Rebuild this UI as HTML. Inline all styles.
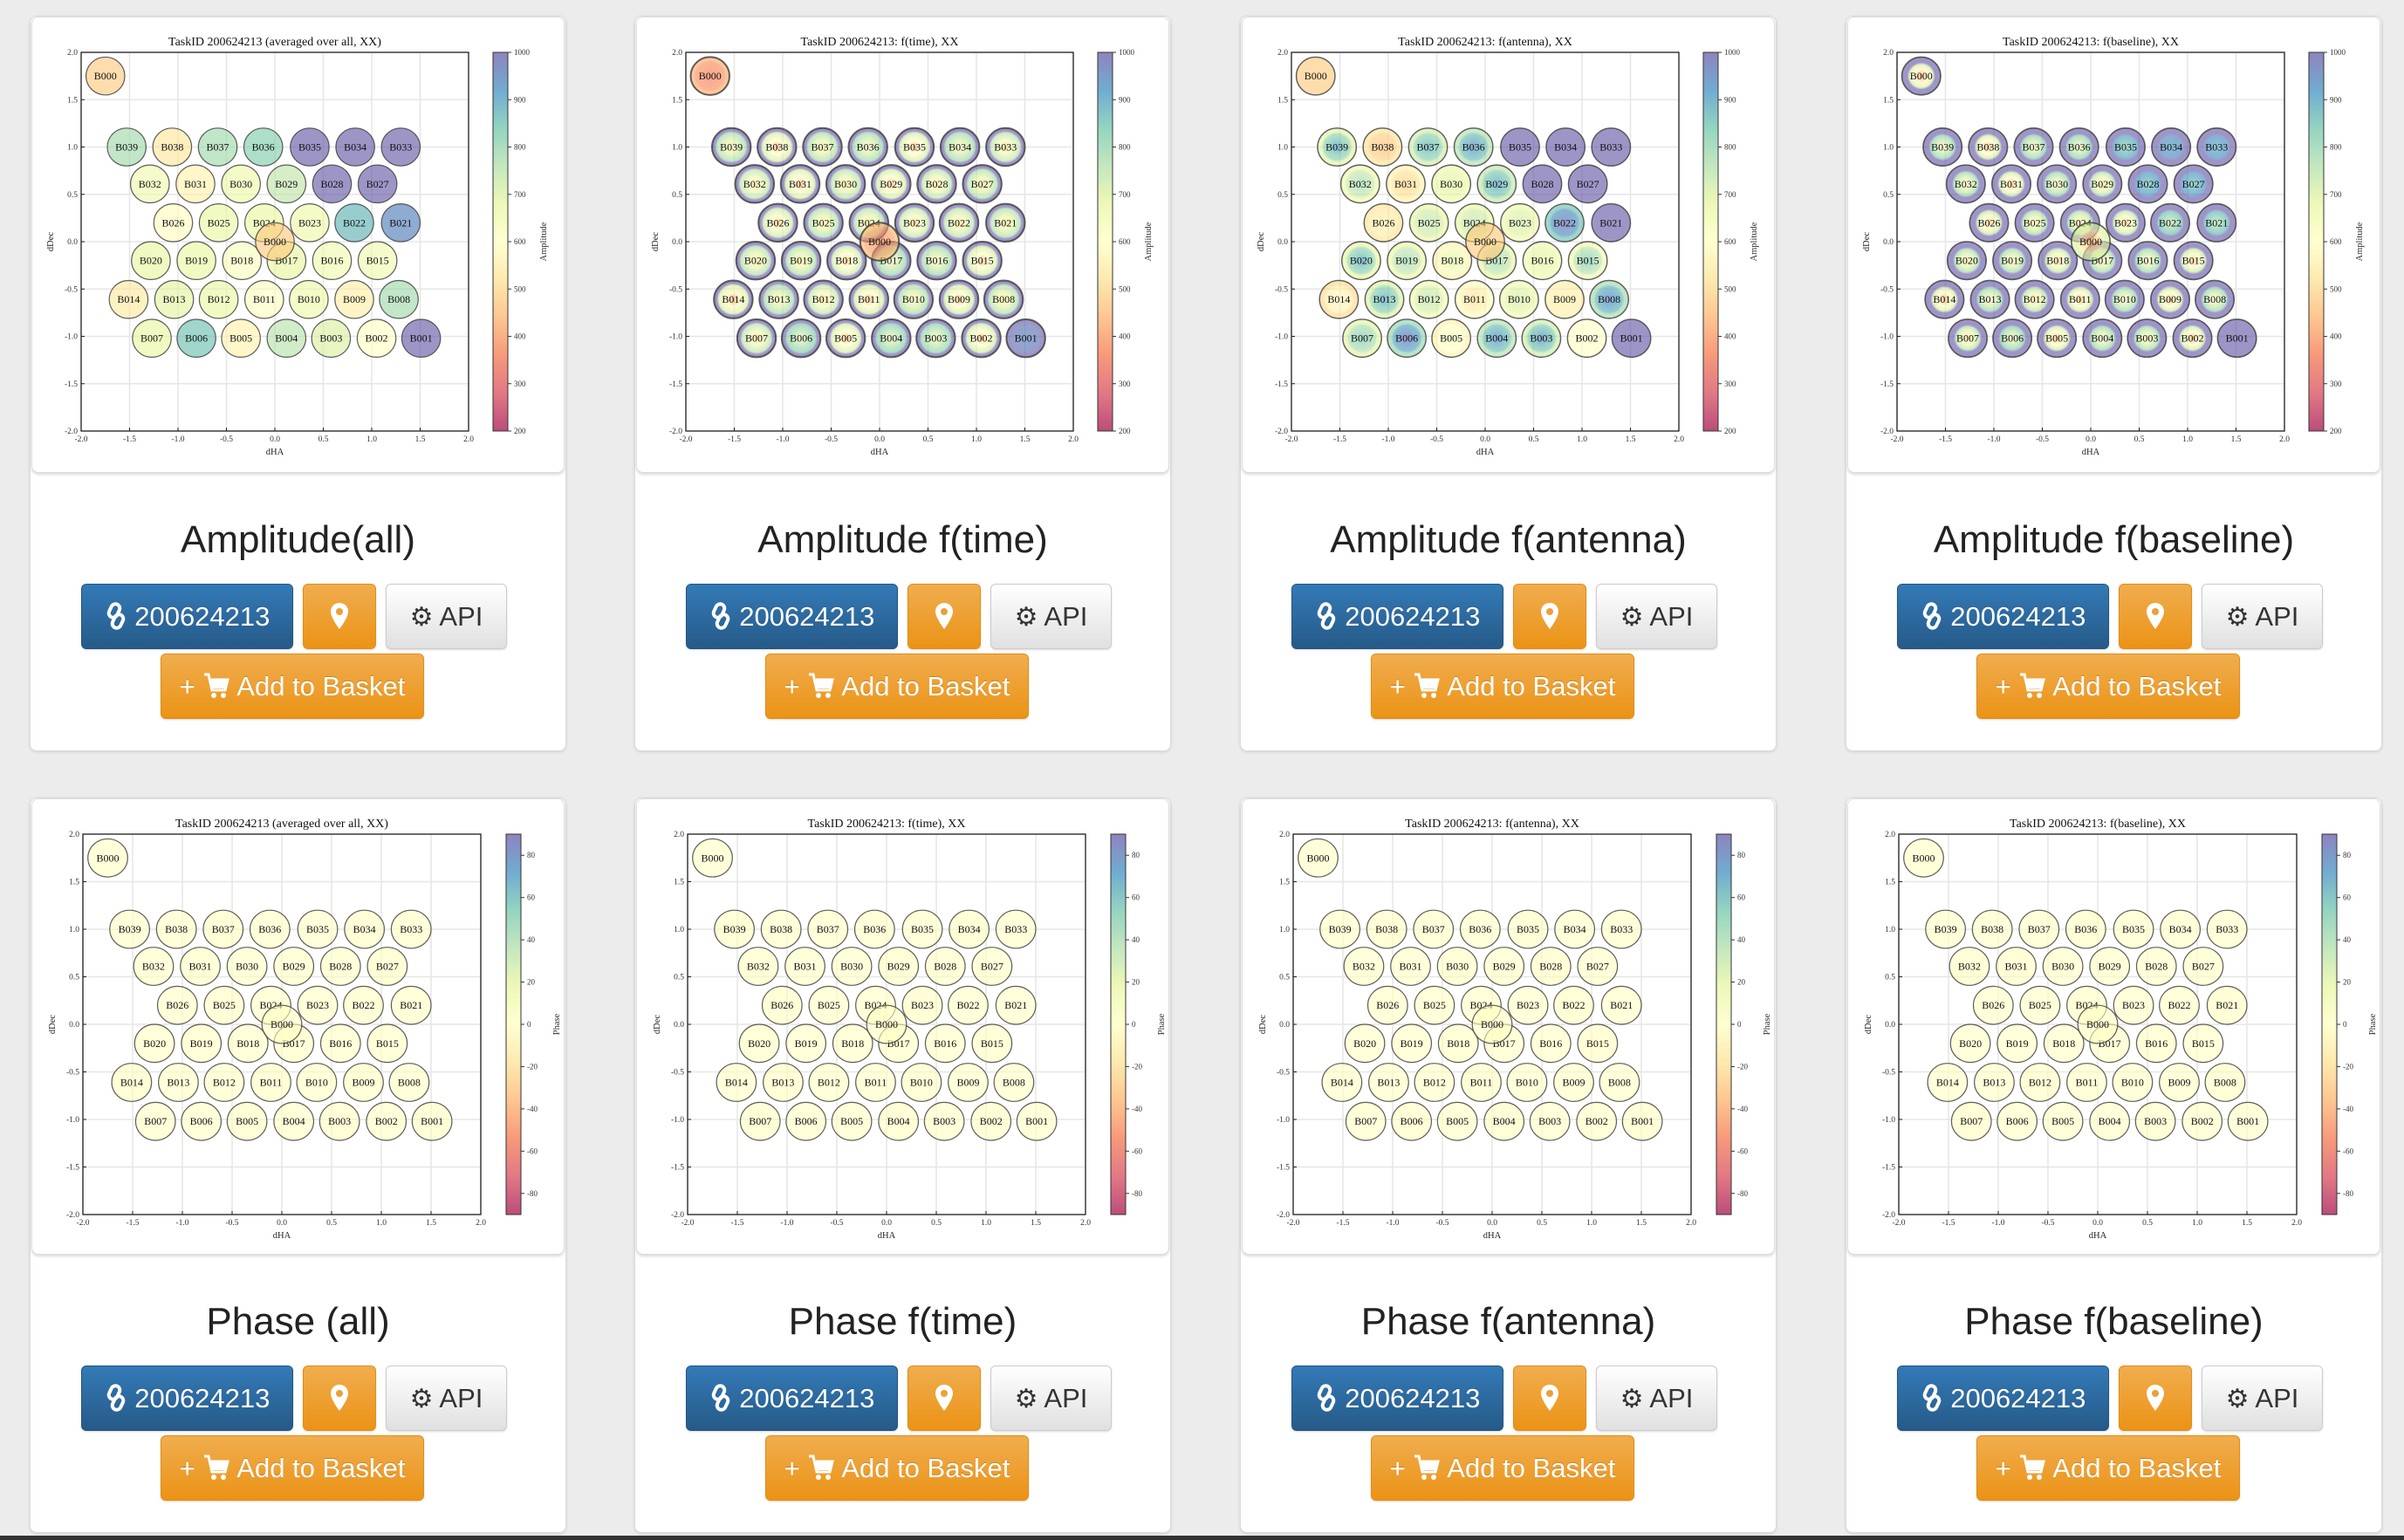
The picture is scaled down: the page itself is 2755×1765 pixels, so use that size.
<!DOCTYPE html>
<html><head><meta charset="utf-8">
<style>
body{margin:0;width:2755px;height:1765px;background:#ececec;position:relative;overflow:hidden;font-family:"Liberation Sans",sans-serif;}
.card{position:absolute;width:615px;height:843px;background:#fff;border:1px solid #dcdcdc;border-radius:8px;box-shadow:0 1px 3px rgba(0,0,0,.12);box-sizing:border-box;}
.thumb{position:absolute;left:1px;top:0;width:611px;height:523px;background:#fff;border:1px solid #ddd;border-radius:8px;box-shadow:0 2px 3px rgba(0,0,0,.15);box-sizing:border-box;overflow:hidden;}
.thumb svg{position:absolute;left:0;top:0;}
.ctitle{position:absolute;left:0;width:100%;top:570px;line-height:60px;text-align:center;font-size:44px;color:#222;}
.btn{position:absolute;height:75px;top:650px;border-radius:6px;box-sizing:border-box;font-size:31px;line-height:73px;text-align:center;color:#fff;text-shadow:0 -1px 0 rgba(0,0,0,.2);box-shadow:0 1px 2px rgba(0,0,0,.15);}
.b-blue{left:58px;width:243px;background:linear-gradient(#337ab7,#265a88);border:1px solid #245580;}
.b-pin{left:312px;width:84px;background:linear-gradient(#f0ad4e,#eb9316);border:1px solid #e38d13;}
.b-api{left:407px;width:139px;background:linear-gradient(#fff,#e0e0e0);border:1px solid #ccc;color:#333;text-shadow:0 1px 0 #fff;}
.b-basket{left:149px;width:302px;top:730px;background:linear-gradient(#f0ad4e,#eb9316);border:1px solid #e38d13;}
.btn svg{vertical-align:middle;position:relative;top:-3px;}
.bottomline{position:absolute;left:0;top:1760px;width:2755px;height:5px;background:#333;}
</style></head>
<body>
<div id="root"></div>
<div class="bottomline"></div>
<script>
// ---- data ----
// index 0 = B000 (corner), 1..39 = B001..B039, 40 = B000 (origin)
const antennaNames = ["B000","B001","B002","B003","B004","B005","B006","B007","B008","B009","B010","B011","B012","B013","B014","B015","B016","B017","B018","B019","B020","B021","B022","B023","B024","B025","B026","B027","B028","B029","B030","B031","B032","B033","B034","B035","B036","B037","B038","B039","B000"];
const antennaX = [-1.75, 1.51,1.05,0.58,0.12,-0.35,-0.81,-1.27, 1.28,0.82,0.35,-0.11,-0.58,-1.04,-1.51, 1.06,0.59,0.12,-0.34,-0.81,-1.28, 1.30,0.82,0.36,-0.11,-0.58,-1.05, 1.06,0.59,0.12,-0.35,-0.82,-1.29, 1.30,0.83,0.36,-0.12,-0.59,-1.06,-1.53, 0.0];
const antennaY = [1.75, -1.02,-1.02,-1.02,-1.02,-1.02,-1.02,-1.02, -0.61,-0.61,-0.61,-0.61,-0.61,-0.61,-0.61, -0.2,-0.2,-0.2,-0.2,-0.2,-0.2, 0.2,0.2,0.2,0.2,0.2,0.2, 0.61,0.61,0.61,0.61,0.61,0.61, 1.0,1.0,1.0,1.0,1.0,1.0,1.0, 0.0];
const ampAll = [480, 1000,600,700,750,560,850,680, 780,550,660,610,670,690,540, 650,650,680,620,670,680, 950,870,660,670,670,590, 1000,1000,740,660,560,650, 1000,1000,1000,820,780,530,780, 480];
const timeInner = [350, 950,430,620,640,420,650,500, 540,430,560,420,480,560,400, 430,580,600,440,540,530, 540,510,480,520,540,450, 540,500,430,520,420,500, 500,580,430,580,550,420,560, 380];
const timeOuter = [430, 1000,1000,1000,1000,1000,1000,1000, 1000,1000,1000,1000,1000,1000,1000, 1000,1000,1000,1000,1000,1000, 1000,1000,1000,1000,1000,1000, 1000,1000,1000,1000,1000,1000, 1000,1000,1000,1000,1000,1000,1000, 450];
const antInner = [480, 1000,600,950,950,650,1000,850, 970,550,720,500,760,920,600, 850,700,800,720,800,920, 1000,1000,720,750,750,560, 1000,1000,920,700,480,800, 1000,1000,1000,950,900,450,920, 480];
const antOuter = [480, 1000,600,720,760,560,800,690, 780,550,650,620,650,700,500, 650,650,680,560,670,680, 1000,850,660,680,680,520, 1000,1000,740,660,560,660, 1000,1000,1000,760,720,520,690, 480];
const baseInner = [400, 1000,440,580,600,440,640,520, 600,440,600,440,520,600,420, 460,600,580,480,580,560, 750,720,480,560,560,460, 850,850,520,600,440,580, 880,900,820,640,620,430,620, 400];
const baseOuter = [1000, 1000,1000,1000,1000,1000,1000,1000, 1000,1000,1000,1000,1000,1000,1000, 1000,1000,1000,1000,1000,1000, 1000,1000,1000,1000,1000,1000, 1000,1000,1000,1000,1000,1000, 1000,1000,1000,1000,1000,1000,1000, 700];
const phaseAll = [0, 1,0,-1,0,1,0,0, 0,1,0,-1,0,0,1, 0,0,1,0,-1,0, 0,1,0,0,-1,0, 1,0,0,0,1,0, 0,-1,0,0,1,0,0, 0];
const phaseTime = [0, 0,1,0,-1,0,0,1, 0,0,1,0,0,-1,0, 1,0,0,0,0,1, 0,0,-1,0,0,1, 0,0,1,0,0,-1, 0,1,0,0,0,0,1, 0];
const phaseAnt = [0, 1,0,0,1,0,-1,0, 0,0,0,1,0,0,0, -1,0,0,1,0,0, 0,1,0,0,0,0, 0,-1,0,1,0,0, 0,0,1,0,0,-1,0, 0];
const phaseBase = [0, 0,0,1,0,0,0,-1, 1,0,0,0,-1,0,0, 0,1,0,0,0,0, -1,0,0,1,0,0, 0,0,0,0,-1,1, 0,0,0,1,0,0,0, 0];
const xTicks = [-2.0,-1.5,-1.0,-0.5,0.0,0.5,1.0,1.5,2.0];
const yTicks = [-2.0,-1.5,-1.0,-0.5,0.0,0.5,1.0,1.5,2.0];
const ampTicks = [200,300,400,500,600,700,800,900,1000];
const phaseTicks = [-80,-60,-40,-20,0,20,40,60,80];
const cardTitles = ["Amplitude(all)","Amplitude f(time)","Amplitude f(antenna)","Amplitude f(baseline)","Phase (all)","Phase f(time)","Phase f(antenna)","Phase f(baseline)"];
const plotTitles = ["TaskID 200624213 (averaged over all, XX)","TaskID 200624213: f(time), XX","TaskID 200624213: f(antenna), XX","TaskID 200624213: f(baseline), XX"];

// ---- helpers ----
const SPEC=["#9e0142","#d53e4f","#f46d43","#fdae61","#fee08b","#ffffbf","#e6f598","#abdda4","#66c2a5","#3288bd","#5e4fa2"];
function hex(h){return [parseInt(h.substr(1,2),16),parseInt(h.substr(3,2),16),parseInt(h.substr(5,2),16)];}
function spectral(t,alpha){t=Math.max(0,Math.min(1,t));const p=t*10,i=Math.min(9,Math.floor(p)),f=p-i;const a=hex(SPEC[i]),b=hex(SPEC[i+1]);
 const c=a.map((v,k)=>v+(b[k]-v)*f).map(v=>Math.round(255-(255-v)*alpha));return `rgb(${c[0]},${c[1]},${c[2]})`;}
const NS="http://www.w3.org/2000/svg";
function mk(tag,attrs,parent){const e=document.createElementNS(NS,tag);for(const k in attrs)e.setAttribute(k,attrs[k]);if(parent)parent.appendChild(e);return e;}
function fmt(v){return v.toFixed(1);}
let gid=0;

function buildChart(svg,opts){
 const L=opts.L,R=opts.R,T=40,B=opts.B;
 const sx=v=>L+(v+2)/4*(R-L);
 const sy=v=>B-(v+2)/4*(B-T);
 const defs=mk("defs",{},svg);
 xTicks.forEach(v=>{mk("line",{x1:sx(v),x2:sx(v),y1:T,y2:B,stroke:"#e6e6e6","stroke-width":1.5},svg);});
 yTicks.forEach(v=>{mk("line",{x1:L,x2:R,y1:sy(v),y2:sy(v),stroke:"#e6e6e6","stroke-width":1.5},svg);});
 const rx=0.2*(R-L)/4, ry=0.2*(B-T)/4;
 for(let i=0;i<antennaNames.length;i++){
  const cx=sx(antennaX[i]),cy=sy(antennaY[i]);
  const tin=(opts.inner[i]-opts.vmin)/(opts.vmax-opts.vmin), tout=(opts.outer[i]-opts.vmin)/(opts.vmax-opts.vmin);
  let fill;
  if(opts.inner[i]===opts.outer[i]){fill=spectral(tin,1);}
  else{const id="g"+(gid++);const rg=mk("radialGradient",{id:id},defs);
   const mid=(tin+tout)/2;
   mk("stop",{offset:"0","stop-color":spectral(tin,1)},rg);
   mk("stop",{offset:"0.35","stop-color":spectral(tin*0.7+tout*0.3,1)},rg);
   mk("stop",{offset:String(opts.ring-0.12),"stop-color":spectral(mid,1)},rg);
   mk("stop",{offset:String(opts.ring),"stop-color":spectral(tout,1)},rg);
   mk("stop",{offset:"1","stop-color":spectral(tout,1)},rg);
   fill=`url(#${id})`;}
  const e=mk("ellipse",{cx:cx,cy:cy,rx:rx,ry:ry,fill:fill,"fill-opacity":0.6,stroke:"#3a3a3a","stroke-opacity":0.8,"stroke-width":opts.edge},svg);
  
  
  const t=mk("text",{x:cx,y:cy+4,"text-anchor":"middle","font-size":12,"font-family":"Liberation Serif, serif",fill:"#111"},svg);
  t.textContent=antennaNames[i];
  
  
 }
 const fr=mk("rect",{x:L,y:T,width:R-L,height:B-T,fill:"none",stroke:"#222","stroke-width":1.3},svg);
 
 
 xTicks.forEach(v=>{mk("line",{x1:sx(v),x2:sx(v),y1:B,y2:B-4,stroke:"#222"},svg);
  const t=mk("text",{x:sx(v),y:B+12,"text-anchor":"middle","font-size":9.5,"font-family":"Liberation Serif, serif",fill:"#333"},svg);t.textContent=fmt(v);
  
  });
 yTicks.forEach(v=>{mk("line",{x1:L,x2:L+4,y1:sy(v),y2:sy(v),stroke:"#222"},svg);
  const t=mk("text",{x:L-4,y:sy(v)+3,"text-anchor":"end","font-size":9.5,"font-family":"Liberation Serif, serif",fill:"#333"},svg);t.textContent=fmt(v);
  
  });
 const tt=mk("text",{x:(L+R)/2,y:T-8,"text-anchor":"middle","font-size":14,"font-family":"Liberation Serif, serif",fill:"#111"},svg);tt.textContent=opts.title;
 
 
 const xl=mk("text",{x:(L+R)/2,y:B+27,"text-anchor":"middle","font-size":10.5,"font-family":"Liberation Serif, serif",fill:"#222"},svg);xl.textContent="dHA";
 
 
 const yl=mk("text",{x:0,y:0,transform:`translate(${L-32},${(T+B)/2}) rotate(-90)`,"text-anchor":"middle","font-size":10.5,"font-family":"Liberation Serif, serif",fill:"#222"},svg);yl.textContent="dDec";
 
 
 const cbL=opts.cbL,cbW=17;
 const lg=mk("linearGradient",{id:"cb"+(gid++),x1:0,y1:1,x2:0,y2:0},defs);
 for(let k=0;k<=10;k++)mk("stop",{offset:k/10,"stop-color":spectral(k/10,0.7)},lg);
 const cb=mk("rect",{x:cbL,y:T,width:cbW,height:B-T,fill:`url(#${lg.id})`,stroke:"#333","stroke-width":1},svg);
 
 
 const cy=v=>B-(v-opts.cmin)/(opts.cmax-opts.cmin)*(B-T);
 opts.cticks.forEach(v=>{mk("line",{x1:cbL+cbW,x2:cbL+cbW+4,y1:cy(v),y2:cy(v),stroke:"#333"},svg);
  const t=mk("text",{x:cbL+cbW+7,y:cy(v)+3,"font-size":9,"font-family":"Liberation Serif, serif",fill:"#333"},svg);t.textContent=String(v);
  
  });
 const cl=mk("text",{x:0,y:0,transform:`translate(${cbL+cbW+44},${(T+B)/2}) rotate(-90)`,"text-anchor":"middle","font-size":10.5,"font-family":"Liberation Serif, serif",fill:"#333"},svg);cl.textContent=opts.clabel;
 
 
}

const linkIcon='<svg width="26" height="32" viewBox="0 0 26 32"><g fill="none" stroke="#fff" stroke-width="4"><rect x="6" y="2" width="10" height="16" rx="5" transform="rotate(25 11 10)"/><rect x="10" y="14" width="10" height="16" rx="5" transform="rotate(25 15 22)"/></g></svg>';
const pinIcon='<svg width="22" height="32" viewBox="0 0 22 32"><path d="M11 1C5 1 1 5.5 1 11c0 7 10 20 10 20s10-13 10-20C21 5.5 17 1 11 1z" fill="#fff"/><circle cx="11" cy="11" r="4" fill="#eca038"/></svg>';
const cartIcon='<svg width="32" height="32" viewBox="0 0 32 32"><path d="M2 3h5l4 18h15l3-12H10" fill="none" stroke="#fff" stroke-width="3"/><rect x="10" y="9" width="18" height="10" fill="#fff"/><circle cx="13" cy="27" r="3" fill="#fff"/><circle cx="24" cy="27" r="3" fill="#fff"/></svg>';

const panels=[
 {inner:ampAll,outer:ampAll,ring:0.85,edge:1.2},
 {inner:timeInner,outer:timeOuter,ring:0.86,edge:2.0},
 {inner:antInner,outer:antOuter,ring:0.8,edge:1.4},
 {inner:baseInner,outer:baseOuter,ring:0.72,edge:1.6},
 {inner:phaseAll,outer:phaseAll,ring:0.85,edge:1.2},
 {inner:phaseTime,outer:phaseTime,ring:0.85,edge:1.2},
 {inner:phaseAnt,outer:phaseAnt,ring:0.85,edge:1.2},
 {inner:phaseBase,outer:phaseBase,ring:0.85,edge:1.2}
];
const colLeft=[34,727,1421,2115], rowTop=[18,914];
const root=document.getElementById('root');
for(let p=0;p<8;p++){
 const r=Math.floor(p/4),c=p%4,isAmp=r===0;
 const card=document.createElement('div');card.className='card';
 card.style.left=colLeft[c]+'px';card.style.top=rowTop[r]+'px';
 
 
 const th=document.createElement('div');th.className='thumb';
 
 
 card.appendChild(th);
 const svg=mk("svg",{width:611,height:523});
 
 
 th.appendChild(svg);
 const P=panels[p];
 buildChart(svg,{L:isAmp?56:58,R:isAmp?500:514,B:isAmp?474:476,cbL:isAmp?528:543,
  inner:P.inner,outer:P.outer,ring:P.ring,edge:P.edge,
  vmin:isAmp?200:-90,vmax:isAmp?1000:90,cmin:isAmp?200:-90,cmax:isAmp?1000:90,
  cticks:isAmp?ampTicks:phaseTicks,clabel:isAmp?"Amplitude":"Phase",title:plotTitles[c]});
 const h=document.createElement('div');h.className='ctitle';h.textContent=cardTitles[p];
 
 
 card.appendChild(h);
 const b1=document.createElement('div');b1.className='btn b-blue';b1.innerHTML=linkIcon+' 200624213';
 
 
 card.appendChild(b1);
 const b2=document.createElement('div');b2.className='btn b-pin';b2.innerHTML=pinIcon;
 
 
 card.appendChild(b2);
 const b3=document.createElement('div');b3.className='btn b-api';b3.innerHTML='<span style="font-family:DejaVu Sans,sans-serif;font-size:30px">⚙</span> API';
 
 
 card.appendChild(b3);
 const b4=document.createElement('div');b4.className='btn b-basket';b4.innerHTML='+ '+cartIcon+' Add to Basket';
 
 
 card.appendChild(b4);
 root.appendChild(card);
}
</script>
</body></html>
